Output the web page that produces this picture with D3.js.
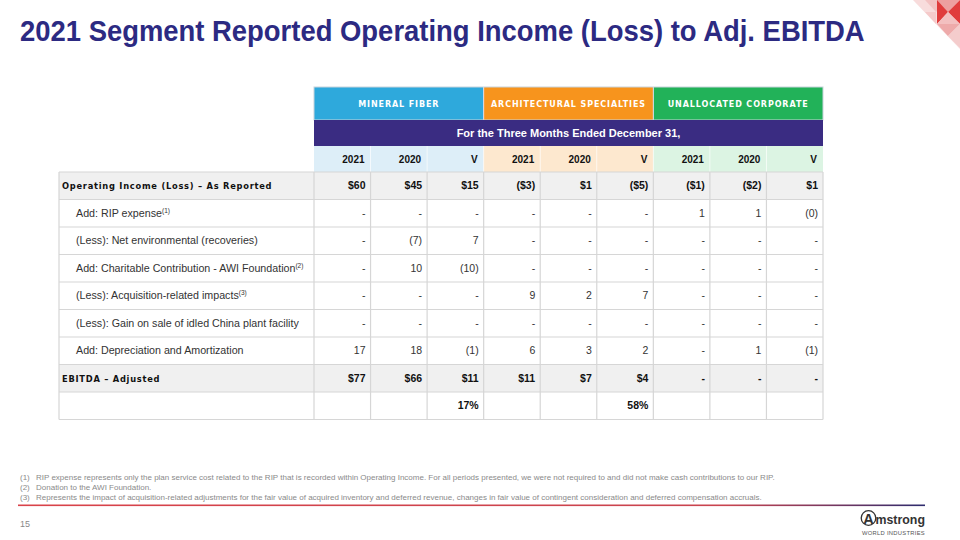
<!DOCTYPE html>
<html><head><meta charset="utf-8">
<script src="https://cdn.jsdelivr.net/npm/d3@7"></script>
<style>body{margin:0;background:#fff}svg{display:block}</style>
</head><body>
<svg id="c" width="960" height="540"></svg>
<script>
const title = "2021 Segment Reported Operating Income (Loss) to Adj. EBITDA";
const segments = ["MINERAL FIBER", "ARCHITECTURAL SPECIALTIES", "UNALLOCATED CORPORATE"];
const segmentColors = ["#2ea9dc", "#f7941d", "#22b259"];
const segmentLight = ["#ddeef8", "#fde8cf", "#dcf4e3"];
const periodTitle = "For the Three Months Ended December 31,";
const periods = ["2021", "2020", "V"];
const rowLabels = [
  {t: "Operating Income (Loss) \u2013 As Reported", bold: true},
  {t: "Add: RIP expense", sup: "(1)"},
  {t: "(Less): Net environmental (recoveries)"},
  {t: "Add: Charitable Contribution - AWI Foundation", sup: "(2)"},
  {t: "(Less): Acquisition-related impacts", sup: "(3)"},
  {t: "(Less): Gain on sale of idled China plant facility"},
  {t: "Add: Depreciation and Amortization"},
  {t: "EBITDA \u2013 Adjusted", bold: true},
  {t: ""}
];
const mineralFiber = [
  ["$60", "$45", "$15"],
  ["-", "-", "-"],
  ["-", "(7)", "7"],
  ["-", "10", "(10)"],
  ["-", "-", "-"],
  ["-", "-", "-"],
  ["17", "18", "(1)"],
  ["$77", "$66", "$11"],
  ["", "", "17%"]
];
const archSpecialties = [
  ["($3)", "$1", "($5)"],
  ["-", "-", "-"],
  ["-", "-", "-"],
  ["-", "-", "-"],
  ["9", "2", "7"],
  ["-", "-", "-"],
  ["6", "3", "2"],
  ["$11", "$7", "$4"],
  ["", "", "58%"]
];
const unallocated = [
  ["($1)", "($2)", "$1"],
  ["1", "1", "(0)"],
  ["-", "-", "-"],
  ["-", "-", "-"],
  ["-", "-", "-"],
  ["-", "-", "-"],
  ["-", "1", "(1)"],
  ["-", "-", "-"],
  ["", "", ""]
];
const footnotes = [
  "RIP expense represents only the plan service cost related to the RIP that is recorded within Operating Income. For all periods presented, we were not required to and did not make cash contributions to our RIP.",
  "Donation to the AWI Foundation.",
  "Represents the impact of acquisition-related adjustments for the fair value of acquired inventory and deferred revenue, changes in fair value of contingent consideration and deferred compensation accruals."
];
const pageNumber = "15";

const svg = d3.select("#c");
const SANS = "'Liberation Sans', Arial, sans-serif";
const HEAVY = "'DejaVu Sans', sans-serif";

// decoration top right
const deco = svg.append("g");
[
  {p: [[913,0],[960,0],[960,49]], f: "#f8dcdc"},
  {p: [[925,0],[948,0],[936,12]], f: "#f3c3c3"},
  {p: [[925,12],[936,12],[936,24]], f: "#f5caca"},
  {p: [[937,0],[960,0],[948,12]], f: "#eda0a0"},
  {p: [[937,0],[948,12],[937,24]], f: "#e03c3c"},
  {p: [[960,0],[948,12],[960,24]], f: "#e03c3c"},
  {p: [[937,24],[948,12],[960,24]], f: "#f3c0c0"},
  {p: [[937,24],[960,24],[948,36]], f: "#eeaaaa"},
  {p: [[948,36],[960,24],[960,48]], f: "#f4cccc"}
].forEach(d => deco.append("polygon").attr("points", d.p.map(q => q.join(",")).join(" ")).attr("fill", d.f));

// title (condensed bold)
const tg = svg.append("g");
const tt = tg.append("text").attr("x", 0).attr("y", 0).text(title)
  .attr("font-family", SANS).attr("font-weight", "bold").attr("font-size", 30).attr("fill", "#2c2a82");
{
  const w = tt.node().getComputedTextLength();
  tg.attr("transform", `translate(20,41) scale(${845 / w},1)`);
}

// table geometry via scales
const labelX0 = 59, dataX0 = 314, dataX1 = 823;
const colIdx = d3.range(9);
const x = d3.scaleBand().domain(colIdx).range([dataX0, dataX1]);
const headerY = [87, 120, 146, 172];
const rowIdx = d3.range(rowLabels.length);
const y = d3.scaleBand().domain(rowIdx).range([172, 419.5]);
const grid = "#d6d6d6";

// header row 1: segments
const segW = x.bandwidth() * 3;
segments.forEach((s, i) => {
  const x0 = x(i * 3);
  svg.append("rect").attr("x", x0).attr("y", headerY[0]).attr("width", segW).attr("height", headerY[1] - headerY[0])
    .attr("fill", segmentColors[i]);
  svg.append("text").attr("x", x0 + segW / 2).attr("y", (headerY[0] + headerY[1]) / 2 + 3)
    .attr("text-anchor", "middle").attr("font-family", HEAVY).attr("font-weight", "bold")
    .attr("font-size", 8).attr("letter-spacing", 0.9).attr("fill", "#fff").text(s);
});
[1, 2].forEach(i => svg.append("line").attr("x1", x(i * 3)).attr("x2", x(i * 3))
  .attr("y1", headerY[0]).attr("y2", headerY[1]).attr("stroke", "#dde").attr("stroke-width", 1));
svg.append("rect").attr("x", dataX0).attr("y", headerY[0]).attr("width", dataX1 - dataX0).attr("height", headerY[1] - headerY[0])
  .attr("fill", "none").attr("stroke", "#c8d4dc").attr("stroke-width", 1);

// header row 2: purple
svg.append("rect").attr("x", dataX0).attr("y", headerY[1]).attr("width", dataX1 - dataX0).attr("height", headerY[2] - headerY[1])
  .attr("fill", "#3a2c82");
svg.append("text").attr("x", (dataX0 + dataX1) / 2).attr("y", (headerY[1] + headerY[2]) / 2 + 4)
  .attr("text-anchor", "middle").attr("font-family", SANS).attr("font-weight", "bold").attr("font-size", 11)
  .attr("fill", "#fff").text(periodTitle);

// header row 3: periods
colIdx.forEach(c => {
  const seg = Math.floor(c / 3);
  svg.append("rect").attr("x", x(c)).attr("y", headerY[2]).attr("width", x.bandwidth()).attr("height", headerY[3] - headerY[2])
    .attr("fill", segmentLight[seg]);
  svg.append("text").attr("x", x(c) + x.bandwidth() - 6).attr("y", (headerY[2] + headerY[3]) / 2 + 4)
    .attr("text-anchor", "end").attr("font-family", SANS).attr("font-weight", "bold").attr("font-size", 10)
    .attr("fill", "#111").text(periods[c % 3]);
});
d3.range(1, 9).forEach(c => svg.append("line").attr("x1", x(c)).attr("x2", x(c)).attr("y1", headerY[2]).attr("y2", headerY[3])
  .attr("stroke", "#ffffff").attr("stroke-opacity", 0.6));

// body
const allVals = rowIdx.map(r => mineralFiber[r].concat(archSpecialties[r], unallocated[r]));
rowIdx.forEach(r => {
  const lab = rowLabels[r];
  const y0 = y(r), h = y.bandwidth();
  if (lab.bold) {
    svg.append("rect").attr("x", labelX0).attr("y", y0).attr("width", dataX1 - labelX0).attr("height", h).attr("fill", "#f0f0f0");
  }
  if (lab.t) {
    const t = svg.append("text").attr("x", lab.bold ? 62 : 76).attr("y", y0 + h / 2 + 3.5)
      .attr("font-family", lab.bold ? HEAVY : SANS).attr("font-weight", lab.bold ? "bold" : "normal")
      .attr("font-size", lab.bold ? 8.3 : 10.7).attr("letter-spacing", lab.bold ? 0.75 : 0)
      .attr("fill", lab.bold ? "#111" : "#333");
    t.append("tspan").text(lab.t);
    if (lab.sup) t.append("tspan").attr("font-size", 6.5).attr("dy", -4).text(lab.sup);
  }
  colIdx.forEach(c => {
    const v = allVals[r][c];
    if (!v) return;
    const isBold = lab.bold || r === rowLabels.length - 1;
    svg.append("text").attr("x", x(c) + x.bandwidth() - 5).attr("y", y0 + h / 2 + 3.5)
      .attr("text-anchor", "end").attr("font-family", SANS).attr("font-weight", isBold ? "bold" : "normal")
      .attr("font-size", 10.5).attr("fill", isBold ? "#111" : "#333").text(v);
  });
});
// grid lines
const gridG = svg.append("g").attr("stroke", grid).attr("stroke-width", 1.2);
rowIdx.concat([rowLabels.length]).forEach(r => {
  const yy = r < rowLabels.length ? y(r) : y.range()[1];
  gridG.append("line").attr("x1", labelX0).attr("x2", dataX1).attr("y1", yy).attr("y2", yy);
});
[labelX0].concat(colIdx.map(c => x(c)), [dataX1]).forEach(xx =>
  gridG.append("line").attr("x1", xx).attr("x2", xx).attr("y1", y.range()[0]).attr("y2", y.range()[1]));

// footnotes
footnotes.forEach((f, i) => {
  const yy = 480 + i * 10;
  svg.append("text").attr("x", 20).attr("y", yy).attr("font-family", SANS).attr("font-size", 8).attr("fill", "#8a8a8a").text(`(${i + 1})`);
  svg.append("text").attr("x", 36).attr("y", yy).attr("font-family", SANS).attr("font-size", 8).attr("fill", "#8a8a8a").text(f);
});
// rule
const defs = svg.append("defs");
const lg = defs.append("linearGradient").attr("id", "rule").attr("x1", "0%").attr("x2", "100%");
lg.append("stop").attr("offset", "0%").attr("stop-color", "#d9434a");
lg.append("stop").attr("offset", "78%").attr("stop-color", "#c9444f");
lg.append("stop").attr("offset", "100%").attr("stop-color", "#2e2c6e");
svg.append("rect").attr("x", 18).attr("y", 504.5).attr("width", 907).attr("height", 1.6).attr("fill", "url(#rule)");

svg.append("text").attr("x", 20).attr("y", 527).attr("font-family", SANS).attr("font-size", 9).attr("fill", "#888").text(pageNumber);

// logo
const logo = svg.append("g");
logo.append("circle").attr("cx", 868.5).attr("cy", 518).attr("r", 7.3).attr("fill", "none").attr("stroke", "#333").attr("stroke-width", 1.3);
logo.append("text").attr("x", 868.5).attr("y", 523.5).attr("text-anchor", "middle").attr("font-family", SANS).attr("font-weight", "bold").attr("font-size", 14.5).attr("fill", "#333").text("A");
const lm = logo.append("text").attr("x", 875.5).attr("y", 524).attr("font-family", SANS).attr("font-weight", "bold").attr("font-size", 16).attr("fill", "#333").text("mstrong");
{
  const w = lm.node().getComputedTextLength();
  lm.attr("font-size", 16 * 49.5 / w);
}
logo.append("text").attr("x", 925).attr("y", 535).attr("text-anchor", "end").attr("font-family", SANS).attr("font-size", 5.8).attr("letter-spacing", 0.3).attr("fill", "#555").text("WORLD INDUSTRIES");
</script>
</body></html>
